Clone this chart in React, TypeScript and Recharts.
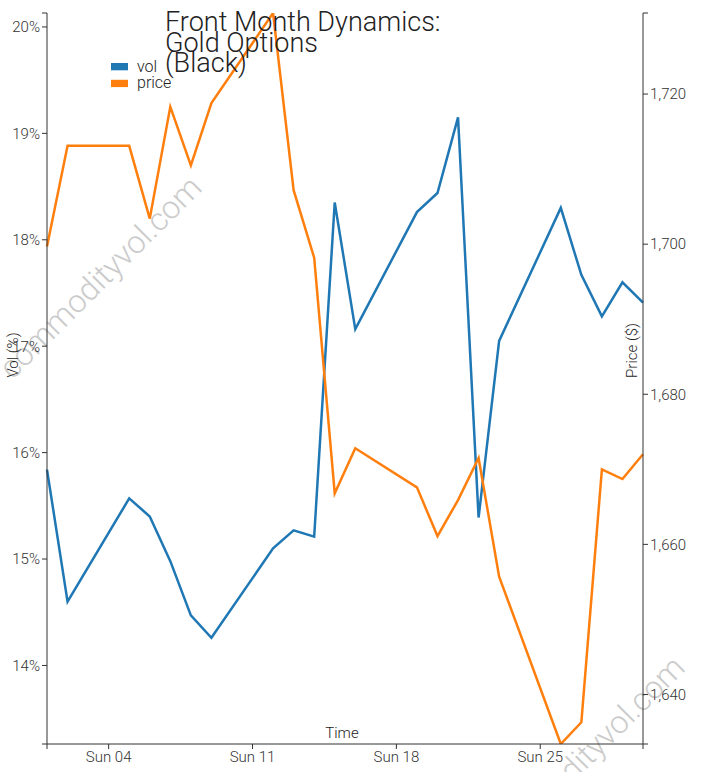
import React from "react";
import { Legend, Line, LineChart, XAxis, YAxis } from "recharts";

const days = [1, 2, 5, 6, 7, 8, 9, 12, 13, 14, 15, 16, 19, 20, 21, 22, 23, 26, 27, 28, 29, 30];
const vol = [
  15.84, 14.6, 15.57, 15.4, 14.98, 14.47, 14.26, 15.1, 15.27, 15.21, 18.35, 17.16, 18.26, 18.44,
  19.15, 15.39, 17.05, 18.3, 17.67, 17.28, 17.6, 17.41,
];
const price = [
  1699.7, 1713.1, 1713.1, 1703.4, 1718.3, 1710.5, 1718.8, 1730.8, 1707.2, 1698.2, 1666.8, 1672.8,
  1667.6, 1661.1, 1665.9, 1671.5, 1655.7, 1633.4, 1636.3, 1670.0, 1668.7, 1672.0,
];
const tickDays = [4, 11, 18, 25];
const tickLabels = ["Sun 04", "Sun 11", "Sun 18", "Sun 25"];
const volTicks = [14, 15, 16, 17, 18, 19, 20];
const priceTicks = [1640, 1660, 1680, 1700, 1720];

const data = days.map((d, i) => ({ day: d, vol: vol[i], price: price[i] }));

const volDomain = [13.262, 20.131];
const priceDomain = [Math.min(...price), Math.max(...price)];
const dayDomain = [days[0], days[days.length - 1]];

const font = "Roboto, 'Open Sans', sans-serif";
const tickStyle = { fontSize: 15, fill: "#333", fontFamily: font, fontWeight: 300 };
const axisColor = "#333";

const BLUE = "#1f77b4";
const ORANGE = "#ff7f0e";

function LegendBox() {
  const items = [
    { name: "vol", color: BLUE },
    { name: "price", color: ORANGE },
  ];
  return (
    <svg width={80} height={40} style={{ display: "block", overflow: "visible" }}>
      {items.map((it, i) => (
        <g key={it.name}>
          <rect x={0} y={5 + i * 16.8} width={17} height={7.3} fill={it.color} />
          <text
            x={26}
            y={14 + i * 15.5}
            fontSize={16}
            fontFamily={font}
            fontWeight={300}
            fill="#222"
          >
            {it.name}
          </text>
        </g>
      ))}
    </svg>
  );
}

export default function App() {
  const tickFmt = (d: number) => {
    const k = tickDays.indexOf(d);
    return k >= 0 ? tickLabels[k] : "";
  };
  return (
    <div style={{ position: "absolute", left: 0, top: 0, width: 703, height: 772, background: "#fff" }}>
      <svg
        width={703}
        height={772}
        style={{ position: "absolute", left: 0, top: 0 }}
      >
        <text
          x={108}
          y={285}
          textAnchor="middle"
          transform="rotate(-45 108 285)"
          fontSize={32}
          fontFamily={font}
          fontWeight={300}
          fill="#aaa"
          opacity={0.6}
        >
          commodityvol.com
        </text>
        <text
          x={591}
          y={765}
          textAnchor="middle"
          transform="rotate(-45 591 765)"
          fontSize={32}
          fontFamily={font}
          fontWeight={300}
          fill="#aaa"
          opacity={0.6}
        >
          commodityvol.com
        </text>
      </svg>
      <div style={{ position: "absolute", left: 0, top: 0 }}>
        <LineChart
          width={703}
          height={772}
          data={data}
          margin={{ top: 13, right: 0, left: 0, bottom: 0 }}
        >
          <XAxis
            dataKey="day"
            type="number"
            domain={dayDomain}
            ticks={[dayDomain[0], ...tickDays, dayDomain[1]]}
            tickFormatter={tickFmt}
            interval={0}
            height={28}
            tickSize={5}
            tickMargin={2}
            tick={tickStyle}
            axisLine={{ stroke: axisColor }}
            tickLine={{ stroke: axisColor }}
          />
          <YAxis
            yAxisId="vol"
            orientation="left"
            width={47}
            domain={volDomain}
            allowDataOverflow
            ticks={[volDomain[0], ...volTicks, volDomain[1]]}
            interval={0}
            tickFormatter={(v: number) => (volTicks.includes(v) ? `${v}%` : "")}
            tickSize={5}
            tickMargin={2}
            tick={tickStyle}
            axisLine={{ stroke: axisColor }}
            tickLine={{ stroke: axisColor }}
          />
          <YAxis
            yAxisId="price"
            orientation="right"
            width={60}
            domain={priceDomain}
            allowDataOverflow
            ticks={[priceDomain[0], ...priceTicks, priceDomain[1]]}
            interval={0}
            tickFormatter={(v: number) => (priceTicks.includes(v) ? v.toLocaleString("en-US") : "")}
            tickSize={5}
            tickMargin={2}
            tick={tickStyle}
            axisLine={{ stroke: axisColor }}
            tickLine={{ stroke: axisColor }}
          />
          <Legend
            layout="horizontal"
            verticalAlign="middle"
            align="center"
            wrapperStyle={{ position: "absolute", left: 111, top: 58, width: 80, height: 40 }}
            content={() => <LegendBox />}
          />
          <Line
            yAxisId="vol"
            dataKey="vol"
            type="linear"
            stroke={BLUE}
            strokeWidth={2.5}
            dot={false}
            isAnimationActive={false}
          />
          <Line
            yAxisId="price"
            dataKey="price"
            type="linear"
            stroke={ORANGE}
            strokeWidth={2.5}
            dot={false}
            isAnimationActive={false}
          />
        </LineChart>
      </div>
      <svg
        width={703}
        height={772}
        style={{ position: "absolute", left: 0, top: 0, pointerEvents: "none" }}
        fontFamily={font}
        fontWeight={300}
      >
        <text x={165} y={30.5} fontSize={27} fill="#222">
          Front Month Dynamics:
        </text>
        <text x={165} y={51.5} fontSize={27} fill="#222">
          Gold Options
        </text>
        <text x={165} y={72} fontSize={27} fill="#222">
          (Black)
        </text>
        <text x={18} y={355} fontSize={15} fill="#222" textAnchor="middle" transform="rotate(-90 18 355)">
          Vol (%)
        </text>
        <text x={637} y={350.5} fontSize={15} fill="#222" textAnchor="middle" transform="rotate(-90 637 350.5)">
          Price ($)
        </text>
        <text x={342} y={738} fontSize={15} fill="#222" textAnchor="middle">
          Time
        </text>
      </svg>
    </div>
  );
}
